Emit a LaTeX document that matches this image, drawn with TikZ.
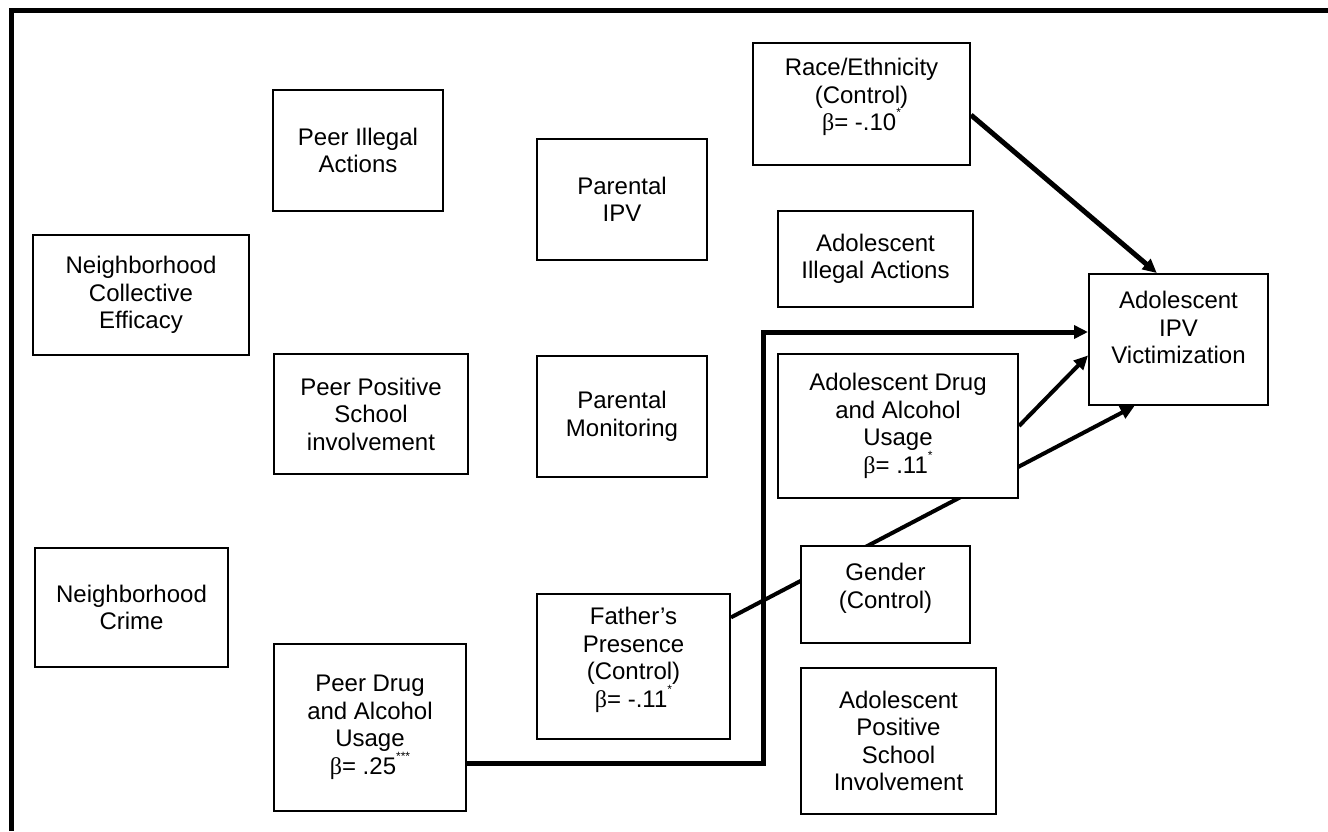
\documentclass[tikz,border=0pt]{standalone}
\usepackage{fontspec}
\setmainfont{Liberation Sans}
\newfontfamily\grkfont{Liberation Serif}
\usepackage{tikz}
\usetikzlibrary{positioning, calc, arrows.meta, backgrounds}
\newcommand{\bet}{{\grkfont β}}
\newcommand{\starmark}[1]{\raisebox{1.1ex}{\fontsize{6}{6}\selectfont #1}}
\newcommand{\lift}[1]{\rule[-#1]{0pt}{#1}}

\begin{document}
\begin{tikzpicture}[x=0.5pt, y=-0.5pt, every node/.style={font=\fontsize{12}{13.75}\selectfont}]
	\tikzstyle{varbox}=[draw=black, line width=1pt, fill=white, align=center, inner sep=2pt, text=black]
	\tikzstyle{effectarrow}=[line width=2.5pt, black, -{Triangle[length=7pt, width=6.5pt]}]
	
	\useasboundingbox (0,0) rectangle (1328,831);
	\draw [line width=2.5pt] (11,831) -- (11,10) -- (1328,10);
	
	% peers and neighborhood
	\node (nce) at (141,295) [varbox, minimum width=108pt, minimum height=60pt] {Neighborhood\\Collective\\Efficacy};
	\node (ncrime) at (131.5,607.5) [varbox, minimum width=96.5pt, minimum height=59.5pt] {Neighborhood\\Crime};
	\node (pia) at (358,150.5) [varbox, minimum width=85pt, minimum height=60.5pt] {Peer Illegal\\Actions};
	\node (ppsi) at (371,414) [varbox, minimum width=97pt, minimum height=60pt] {Peer Positive\\School\\involvement};
	\node (pdrug) at (370,727.5) [varbox, minimum width=96pt, minimum height=83.5pt] {Peer Drug\\and Alcohol\\Usage\\\bet= .25\starmark{***}};
	
	% parents
	\node (pipv) at (622,199.5) [varbox, minimum width=85pt, minimum height=60.5pt] {Parental\\IPV};
	\node (pmon) at (622,416.5) [varbox, minimum width=85pt, minimum height=60.5pt] {Parental\\Monitoring};
	\node (father) at (633.5,666.5) [varbox, minimum width=96.5pt, minimum height=72.5pt] {Father’s\\Presence\\(Control)\\\bet= -.11\starmark{*}\lift{9pt}};
	
	% adolescent
	\node (race) at (861.5,104) [varbox, minimum width=108.5pt, minimum height=61pt] {Race/Ethnicity\\(Control)\\\bet= -.10\starmark{*}\lift{9.5pt}};
	\node (aia) at (875.5,259) [varbox, minimum width=97.5pt, minimum height=48pt] {Adolescent\\Illegal Actions};
	\node (adrug) at (898,426) [varbox, minimum width=120pt, minimum height=72pt] {Adolescent Drug\\and Alcohol\\Usage\\\bet= .11\starmark{*}};
	\node (gender) at (885.5,594.5) [varbox, minimum width=84.5pt, minimum height=48.5pt] {Gender\\(Control)\lift{8.5pt}};
	\node (apsi) at (898.5,741) [varbox, minimum width=97.5pt, minimum height=73pt] {Adolescent\\Positive\\School\\Involvement};
	\node (ipv) at (1178.5,339.5) [varbox, minimum width=89.5pt, minimum height=65.5pt] {Adolescent\\IPV\\Victimization\lift{12pt}};
	
	\coordinate (elbow) at (763,332);
	
	\begin{scope}[on background layer]
		\draw [effectarrow] ($(race.east)+(0,11)$) -- ($(ipv.north west)!0.38!(ipv.north east)$);
		\draw [effectarrow] ($(pdrug.north east)!0.71!(pdrug.south east)$) -| (elbow) -- (elbow -| ipv.west);
		\draw [effectarrow, line width=2pt] ($(father.north east)!0.166!(father.south east)$) -- ($(ipv.south west)!0.257!(ipv.south east)$);
		\draw [effectarrow, line width=2pt] (adrug.east) -- ($(ipv.north west)!0.62!(ipv.south west)$);
	\end{scope}
\end{tikzpicture}
\end{document}
